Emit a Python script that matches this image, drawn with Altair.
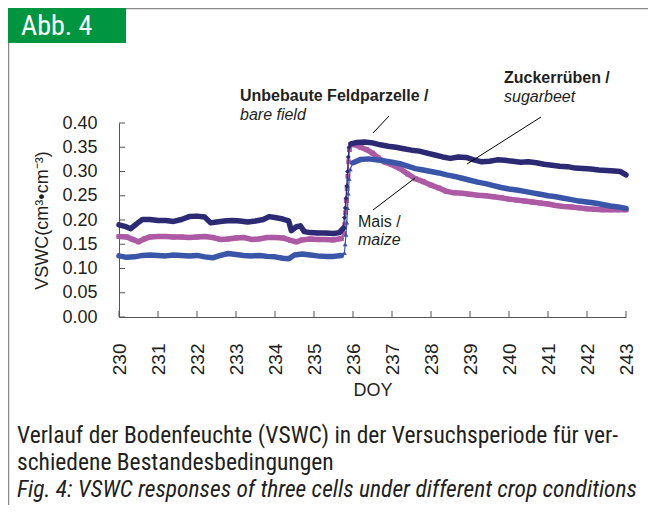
import altair as alt
import pandas as pd

# ---------------- data ----------------
bare_doy = [230.0, 230.15, 230.3, 230.45, 230.6, 230.8, 231.0, 231.2, 231.4, 231.6, 231.8, 232.0,
            232.2, 232.35, 232.5, 232.7, 232.9, 233.1, 233.3, 233.5, 233.7, 233.85, 234.0, 234.2,
            234.35, 234.42, 234.55, 234.65, 234.75, 234.9, 235.1, 235.3, 235.5, 235.65, 235.75,
            235.78, 235.8, 235.82, 235.84, 235.86, 235.88, 235.9, 235.95, 236.1, 236.3, 236.5,
            236.7, 236.9, 237.1, 237.3, 237.5, 237.7, 237.9, 238.1, 238.3, 238.5, 238.7, 238.9,
            239.1, 239.3, 239.5, 239.7, 239.9, 240.1, 240.3, 240.5, 240.7, 240.9, 241.1, 241.3,
            241.5, 241.7, 241.9, 242.1, 242.3, 242.5, 242.7, 242.85, 243.0]
bare_vswc = [0.190, 0.187, 0.182, 0.192, 0.201, 0.201, 0.199, 0.199, 0.197, 0.201, 0.207, 0.208,
             0.206, 0.194, 0.196, 0.198, 0.199, 0.198, 0.196, 0.198, 0.201, 0.207, 0.205, 0.202,
             0.198, 0.178, 0.186, 0.188, 0.176, 0.174, 0.173, 0.173, 0.172, 0.174, 0.183,
             0.205, 0.225, 0.245, 0.270, 0.300, 0.330, 0.350, 0.357, 0.360, 0.361, 0.359,
             0.355, 0.352, 0.350, 0.347, 0.344, 0.342, 0.338, 0.334, 0.330, 0.327, 0.330, 0.329,
             0.324, 0.320, 0.321, 0.324, 0.323, 0.321, 0.319, 0.320, 0.318, 0.315, 0.313, 0.311,
             0.310, 0.307, 0.306, 0.305, 0.303, 0.302, 0.301, 0.300, 0.293]

beet_doy = [230.0, 230.2, 230.4, 230.6, 230.8, 231.0, 231.2, 231.4, 231.6, 231.8, 232.0, 232.2,
            232.4, 232.6, 232.8, 233.0, 233.2, 233.4, 233.6, 233.8, 234.0, 234.2, 234.35, 234.5,
            234.7, 234.9, 235.1, 235.3, 235.5, 235.7, 235.78, 235.8, 235.82, 235.84, 235.86,
            235.88, 235.9, 235.93, 236.0, 236.2, 236.4, 236.6, 236.8, 237.0, 237.2, 237.4, 237.6,
            237.8, 238.0, 238.2, 238.4, 238.6, 238.8, 239.0, 239.2, 239.4, 239.6, 239.8, 240.0,
            240.2, 240.4, 240.6, 240.8, 241.0, 241.2, 241.4, 241.6, 241.8, 242.0, 242.2, 242.4,
            242.6, 242.8, 243.0]
beet_vswc = [0.126, 0.123, 0.124, 0.127, 0.128, 0.127, 0.126, 0.128, 0.127, 0.126, 0.127, 0.124,
             0.122, 0.127, 0.131, 0.129, 0.127, 0.126, 0.127, 0.125, 0.124, 0.121, 0.120, 0.128,
             0.130, 0.128, 0.126, 0.125, 0.125, 0.127, 0.132, 0.150, 0.170, 0.195, 0.225,
             0.255, 0.285, 0.305, 0.318, 0.325, 0.326, 0.324, 0.322, 0.319, 0.316, 0.311, 0.306,
             0.303, 0.300, 0.297, 0.293, 0.290, 0.286, 0.282, 0.278, 0.275, 0.271, 0.267, 0.264,
             0.262, 0.259, 0.256, 0.253, 0.250, 0.248, 0.245, 0.242, 0.239, 0.237, 0.235, 0.232,
             0.229, 0.227, 0.224]

maize_doy = [230.0, 230.2, 230.35, 230.5, 230.65, 230.8, 231.0, 231.2, 231.4, 231.6, 231.8, 232.0,
             232.2, 232.4, 232.6, 232.8, 233.0, 233.2, 233.4, 233.6, 233.8, 234.0, 234.2, 234.4,
             234.55, 234.7, 234.9, 235.1, 235.3, 235.5, 235.7, 235.77, 235.79, 235.81, 235.83,
             235.85, 235.87, 235.89, 235.91, 235.95, 236.05, 236.2, 236.35, 236.5, 236.65, 236.8,
             237.0, 237.2, 237.4, 237.6, 237.8, 238.0, 238.2, 238.4, 238.6, 238.8, 239.0, 239.2,
             239.4, 239.6, 239.8, 240.0, 240.2, 240.4, 240.6, 240.8, 241.0, 241.2, 241.4, 241.6,
             241.8, 242.0, 242.2, 242.4, 242.6, 242.8, 243.0]
maize_vswc = [0.166, 0.165, 0.160, 0.155, 0.161, 0.165, 0.166, 0.166, 0.165, 0.165, 0.164, 0.165,
              0.166, 0.164, 0.160, 0.161, 0.163, 0.164, 0.160, 0.161, 0.164, 0.164, 0.163, 0.158,
              0.155, 0.159, 0.161, 0.160, 0.160, 0.159, 0.162, 0.172, 0.190, 0.215, 0.240,
              0.265, 0.290, 0.320, 0.345, 0.356, 0.355, 0.350, 0.345, 0.338, 0.328, 0.320,
              0.314, 0.306, 0.295, 0.285, 0.279, 0.272, 0.266, 0.259, 0.256, 0.255, 0.253, 0.251,
              0.250, 0.248, 0.246, 0.243, 0.241, 0.239, 0.237, 0.235, 0.233, 0.230, 0.228, 0.227,
              0.225, 0.223, 0.222, 0.221, 0.221, 0.221, 0.221]

series_names = ["Mais", "Zuckerrüben", "Unbebaute Feldparzelle"]   # drawing order
series_colors = ["#ad5aa4", "#3a56a8", "#2d2a73"]
series_shapes = ["square", "triangle-up", "diamond"]
series_data = [(maize_doy, maize_vswc), (beet_doy, beet_vswc), (bare_doy, bare_vswc)]

x_ticks = [230, 231, 232, 233, 234, 235, 236, 237, 238, 239, 240, 241, 242, 243]
y_ticks = [0.0, 0.05, 0.10, 0.15, 0.20, 0.25, 0.30, 0.35, 0.40]

caption_lines = ["Verlauf der Bodenfeuchte (VSWC) in der Versuchsperiode für ver-",
                 "schiedene Bestandesbedingungen"]
caption_en = "Fig. 4: VSWC responses of three cells under different crop conditions"

# ---------------- build ----------------
rows = []
for name, (ds, vs) in zip(series_names, series_data):
    for d, v in zip(ds, vs):
        rows.append({"serie": name, "doy": d, "vswc": v})
df = pd.DataFrame(rows)

AX_FONT = "Liberation Sans"
CAP_FONT = "Liberation Sans Narrow, Roboto Condensed, Roboto"
TXT = "#231f20"
W, H = 507, 194

xscale = alt.Scale(domain=[230, 243], nice=False, zero=False)
yscale = alt.Scale(domain=[0, 0.4], nice=False)

xaxis = alt.Axis(values=x_ticks, labelAngle=270, labelFontSize=19, labelFont=AX_FONT,
                 labelColor=TXT, ticks=False, labelPadding=26, labelFlush=False,
                 labelOverlap=False, domainColor="#555555", grid=False, title="DOY",
                 titleFont=AX_FONT, titleFontSize=18, titleFontWeight="normal",
                 titleColor=TXT, titlePadding=7)
yaxis = alt.Axis(values=y_ticks, format=".2f", labelFontSize=18, labelFont=AX_FONT,
                 labelColor=TXT, ticks=False, labelPadding=22, labelFlush=False,
                 labelOverlap=False, domainColor="#555555", grid=False,
                 title="VSWC(cm³•cm⁻³)", titleFont=AX_FONT, titleFontSize=18,
                 titleFontWeight="normal", titleColor=TXT, titlePadding=10)

base = alt.Chart(df)
layers = []
for name, col, shp in zip(series_names, series_colors, series_shapes):
    sub = base.transform_filter(alt.datum.serie == name)
    enc = dict(x=alt.X("doy:Q", scale=xscale, axis=xaxis),
               y=alt.Y("vswc:Q", scale=yscale, axis=yaxis))
    layers.append(sub.mark_line(color=col, strokeWidth=1.2).encode(order="doy:Q", **enc))
    layers.append(sub.transform_filter(alt.datum.doy <= 235.76)
                  .mark_line(color=col, strokeWidth=5.5, strokeJoin="round", strokeCap="round")
                  .encode(order="doy:Q", **enc))
    layers.append(sub.transform_filter(alt.datum.doy >= 235.94)
                  .mark_line(color=col, strokeWidth=5.5, strokeJoin="round", strokeCap="round")
                  .encode(order="doy:Q", **enc))
    layers.append(sub.mark_point(color=col, filled=True, opacity=1, size=24, shape=shp)
                  .encode(**enc))

# inward tick marks
yt = alt.Chart(pd.DataFrame({"t": y_ticks})).mark_rule(color="#555555", strokeWidth=1).encode(
    y=alt.Y("t:Q", scale=yscale, axis=yaxis), x=alt.value(0), x2=alt.value(6))
xt = alt.Chart(pd.DataFrame({"t": x_ticks})).mark_rule(color="#555555", strokeWidth=1).encode(
    x=alt.X("t:Q", scale=xscale, axis=xaxis), y=alt.value(H), y2=alt.value(H - 6))
layers += [yt, xt]

one = pd.DataFrame({"k": [0]})


def label(txt, px, py, size, weight="normal", style="normal", font=AX_FONT, color=TXT):
    return alt.Chart(one).mark_text(text=txt, align="left", baseline="alphabetic", fontSize=size,
                                    fontWeight=weight, fontStyle=style, font=font,
                                    color=color).encode(x=alt.value(px), y=alt.value(py))


def seg(x1, y1, x2, y2, color="#000000", width=1.0):
    return alt.Chart(one).mark_rule(color=color, strokeWidth=width).encode(
        x=alt.value(x1), y=alt.value(y1), x2=alt.value(x2), y2=alt.value(y2))


# annotations
layers += [
    label("Unbebaute Feldparzelle /", 121, -22, 16, weight="bold"),
    label("bare field", 121, -3, 16, style="italic"),
    label("Zuckerrüben /", 385, -40, 16, weight="bold"),
    label("sugarbeet", 385, -21, 16, style="italic"),
    label("Mais /", 239, 104, 16),
    label("maize", 239, 122, 16, style="italic"),
    seg(270, -7, 254, 10),
    seg(422, -6, 348, 41),
    seg(254, 87, 296, 55),
]

# frame, green tag, caption
layers += [
    seg(-110.5, -114.5, 540, -114.5, color="#8a8a8a", width=1.5),
    seg(-110.5, -114.5, -110.5, 390, color="#8a8a8a", width=1.5),
    alt.Chart(one).mark_rect(color="#00963f").encode(
        x=alt.value(-111), x2=alt.value(7), y=alt.value(-115), y2=alt.value(-80)),
    label("Abb. 4", -98, -88, 28, font=CAP_FONT, color="#ffffff"),
    label(caption_lines[0], -102, 320, 23.5, font=CAP_FONT),
    label(caption_lines[1], -102, 347, 23.5, font=CAP_FONT),
    label(caption_en, -102, 374, 23.5, style="italic", font=CAP_FONT),
]

chart = alt.layer(*layers).properties(
    width=W, height=H,
    padding={"left": 111, "top": 115, "right": 22, "bottom": 188},
    autosize=alt.AutoSizeParams(type="none"),
    background="white",
).configure_view(stroke=None)

chart.save("out.html", embed_options={"renderer": "svg", "actions": False})
